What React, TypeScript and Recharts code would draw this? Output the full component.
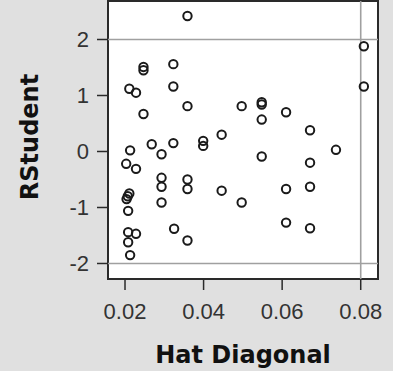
import React from "react";
import {
  ScatterChart,
  Scatter,
  XAxis,
  YAxis,
  CartesianGrid,
  ReferenceLine,
  ReferenceArea,
  Label,
} from "recharts";

// Leverage (hat diagonal) of each observation
const hatDiagonal = [
  0.0359, 0.0247, 0.0247, 0.0323, 0.0211, 0.0228, 0.0323, 0.0247, 0.0359, 0.0497,
  0.0446, 0.0399, 0.0399, 0.0323, 0.0268, 0.0213, 0.0293, 0.0203, 0.0228, 0.0293,
  0.0293, 0.0359, 0.0359, 0.0446, 0.0497, 0.0211, 0.0207, 0.0204, 0.0208, 0.0293,
  0.0325, 0.0359, 0.0208, 0.0228, 0.0208, 0.0213, 0.0808, 0.0808, 0.0548, 0.0548,
  0.0548, 0.061, 0.0671, 0.0737, 0.0548, 0.0671, 0.061, 0.0671, 0.061, 0.0671,
];

// Studentized deleted residual of each observation
const rStudent = [
  2.42, 1.51, 1.45, 1.56, 1.12, 1.05, 1.16, 0.67, 0.81, 0.81,
  0.3, 0.19, 0.1, 0.15, 0.13, 0.02, -0.05, -0.22, -0.31, -0.47,
  -0.63, -0.5, -0.67, -0.7, -0.91, -0.75, -0.8, -0.85, -1.06, -0.91,
  -1.38, -1.59, -1.44, -1.47, -1.62, -1.85, 1.88, 1.16, 0.88, 0.84,
  0.57, 0.7, 0.38, 0.03, -0.09, -0.2, -0.67, -0.63, -1.27, -1.37,
];

const xTicks = [0.02, 0.04, 0.06, 0.08];
const yTicks = [-2, -1, 0, 1, 2];

// Diagnostic cut-offs
const rStudentLimits = [-2, 2];
const leverageLimit = 0.08;

const xDomain: [number, number] = [0.01567, 0.0844];
const yDomain: [number, number] = [-2.277, 2.6875];

const points = hatDiagonal.map((h, i) => ({ hat: h, rstudent: rStudent[i] }));

const INK = "#2a2a2a";
const tickFont = { fontFamily: "Liberation Sans, Arial, sans-serif", fontSize: 22, fill: "#333" };
const titleFont = "DejaVu Sans, Verdana, sans-serif";

const RingMarker = (props: any) => {
  const { cx, cy } = props;
  if (cx == null || cy == null) return null;
  return <circle cx={cx} cy={cy} r={4.2} fill="none" stroke="#1a1a1a" strokeWidth={2} />;
};

const YTitle = (props: any) => {
  const vb = props.viewBox || {};
  const x = vb.x + vb.width - 70;
  const y = vb.y + vb.height / 2 - 3;
  return (
    <text
      x={x}
      y={y}
      transform={`rotate(-90 ${x} ${y})`}
      textAnchor="middle"
      fontFamily={titleFont}
      fontWeight="bold"
      fontSize={24}
      fill="#111"
    >
      RStudent
    </text>
  );
};

const XTitle = (props: any) => {
  const vb = props.viewBox || {};
  const x = vb.x + vb.width / 2;
  const y = vb.y + 84;
  return (
    <text x={x} y={y} textAnchor="middle" fontFamily={titleFont} fontWeight="bold" fontSize={24} fill="#111">
      Hat Diagonal
    </text>
  );
};

export default function App() {
  return (
    <div
      style={{
        position: "absolute",
        left: 0,
        top: 0,
        width: 393,
        height: 371,
        background: "#e0e0e0",
      }}
    >
      <ScatterChart width={393} height={371} margin={{ top: 1, right: 15, bottom: 0, left: 0 }}>
        <CartesianGrid horizontal={false} vertical={false} fill="#ffffff" />
        <XAxis
          type="number"
          dataKey="hat"
          domain={xDomain}
          ticks={xTicks}
          allowDataOverflow
          height={92}
          axisLine={false}
          tickLine={{ stroke: INK, strokeWidth: 1.5 }}
          tickSize={11}
          tickMargin={13}
          tick={tickFont}
          tickFormatter={(v: number) => v.toFixed(2)}
        >
          <Label content={<XTitle />} />
        </XAxis>
        <YAxis
          type="number"
          dataKey="rstudent"
          domain={yDomain}
          ticks={yTicks}
          allowDataOverflow
          width={108}
          axisLine={false}
          tickLine={{ stroke: INK, strokeWidth: 1.5 }}
          tickSize={11}
          tickMargin={8}
          tick={tickFont}
        >
          <Label content={<YTitle />} />
        </YAxis>
        {rStudentLimits.map((v) => (
          <ReferenceLine key={v} y={v} stroke="#a0a0a0" strokeWidth={1.6} />
        ))}
        <ReferenceLine x={leverageLimit} stroke="#a0a0a0" strokeWidth={1.6} />
        <ReferenceArea
          x1={xDomain[0]}
          x2={xDomain[1]}
          y1={yDomain[0]}
          y2={yDomain[1]}
          fill="none"
          fillOpacity={0}
          stroke={INK}
          strokeWidth={2}
          ifOverflow="visible"
        />
        <Scatter data={points} shape={<RingMarker />} isAnimationActive={false} />
      </ScatterChart>
    </div>
  );
}
